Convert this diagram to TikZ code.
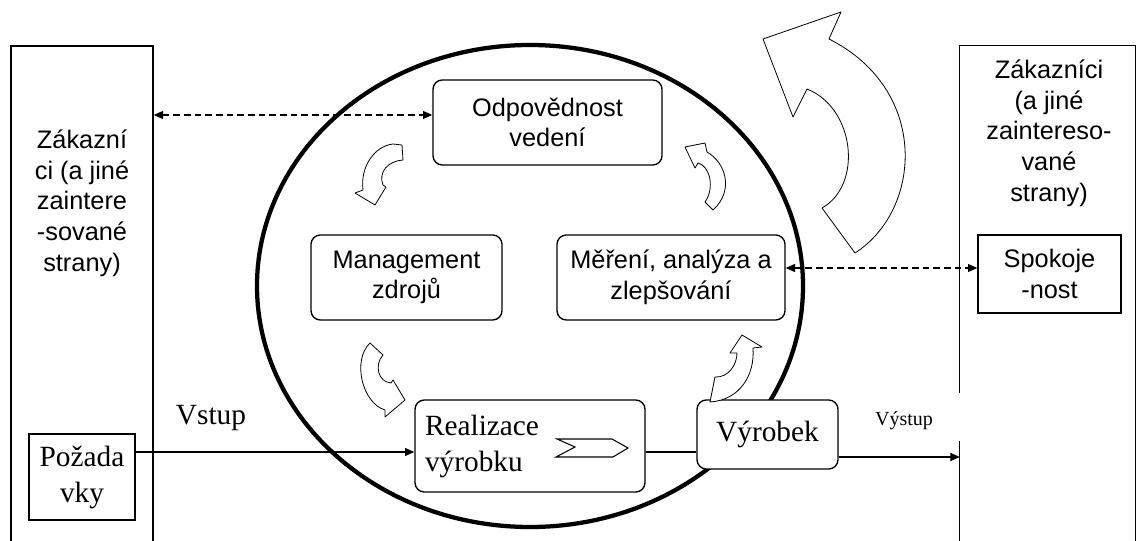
\documentclass[tikz,border=0pt]{standalone}
\usepackage{fontspec}
\setmainfont{Liberation Serif}
\newfontfamily\sansf{Liberation Sans}
\usetikzlibrary{arrows.meta,shapes.geometric}
\begin{document}
\begin{tikzpicture}[x=0.75pt,y=-0.75pt,
  >={Triangle[length=7pt,width=6pt]},
  box/.style={draw, line width=1pt, fill=white, inner sep=0pt, align=center},
  roundbox/.style={box, rounded corners=7pt},
  sanstext/.style={font=\sansf\fontsize{19}{23}\selectfont},
  seriftext/.style={font=\fontsize{22}{27}\selectfont},
  dasharrow/.style={dash pattern=on 5pt off 3pt, line width=0.8pt, <->},
  solidarrow/.style={line width=0.8pt, ->},
  plainline/.style={line width=0.8pt},
  curvedarrow/.style={draw, line width=0.6pt, fill=white, line join=round}
]
\useasboundingbox (0,0) rectangle (1136,541);
\clip (0,0) rectangle (1136,541);

% big curved arrow
\path[curvedarrow] (841,12) -- (763,39) -- (793,117) -- (807,89)
  .. controls (855,108) and (863,185) .. (822,208) -- (855,253)
  .. controls (922,210) and (930,90) .. (829,39) -- cycle;

% outer boxes
\node[draw, line width=1pt, inner sep=0pt, minimum width=106.5pt, minimum height=385.5pt] (lbox) at (82,303) {};
\node[sanstext, align=center] (ltext) at (82,203) {Zákazní\\ci (a jiné\\zaintere\\-sované\\strany)};

\node[draw=none, inner sep=0pt, minimum width=131.25pt, minimum height=385.5pt] (rbox) at (1047.5,303) {};
\coordinate (g1) at (0,393);
\coordinate (g2) at (0,441);
\draw[line width=1pt] (rbox.west |- g1) -- (rbox.north west) -- (rbox.north east)
  -- (rbox.south east) -- (rbox.south west) -- (rbox.west |- g2);
\node[sanstext, align=center] (rtext) at (1049,133) {Zákazníci\\(a jiné\\zaintereso-\\vané\\strany)};

% ellipse
\node[draw, ellipse, line width=3.2pt, inner sep=0pt, minimum width=409.5pt, minimum height=361.5pt] (circ) at (530,286) {};

% inner boxes
\node[roundbox, sanstext, minimum width=171.75pt, minimum height=63.75pt] (odp) at (547.5,122.5) {Odpovědnost\\vedení};
\node[roundbox, sanstext, minimum width=143.25pt, minimum height=63.75pt] (man) at (406.5,277.5) {Management\\zdrojů};
\node[roundbox, sanstext, minimum width=171pt, minimum height=63.75pt] (mer) at (671,277.5) {Měření, analýza a\\zlepšování};
\node[roundbox, seriftext, align=left, text width=157.5pt, minimum width=172.5pt, minimum height=69pt] (real) at (530,446) {Realizace\\výrobku};
\node[roundbox, seriftext, minimum width=105.75pt, minimum height=51.75pt] (vyr) at (767.5,434.5) {Výrobek};
\node[box, sanstext, minimum width=107.25pt, minimum height=58.5pt] (spok) at (1049.5,274) {Spokoje\\-nost};
\node[box, seriftext, minimum width=79.5pt, minimum height=64.5pt] (poz) at (82,477) {Požada\\vky};

% chevron inside Realizace
\draw[line width=0.8pt, fill=white] (557,439) -- (612,439) -- (628,448) -- (613,457) -- (556,457) -- (575,447) -- cycle;

% small curved arrows
\path[curvedarrow] (393,144) -- (402,145) -- (403,160)
  .. controls (388,161) and (378,172) .. (383,185) -- (386,187) -- (375,205) -- (355,193) -- (363,190)
  .. controls (360,166) and (375,146) .. (393,144) -- cycle;
\path[curvedarrow] (685,147) -- (705,143) -- (707,152)
  .. controls (725,162) and (735,190) .. (713,210) -- (705,202)
  .. controls (715,188) and (710,166) .. (698,163) -- (695,168) -- cycle;
\path[curvedarrow] (370,343) -- (383,355)
  .. controls (374,365) and (378,382) .. (391,383) -- (393,380) -- (405,400) -- (385,417) -- (385,410)
  .. controls (362,403) and (352,360) .. (370,343) -- cycle;
\path[curvedarrow] (710,402) -- (715,377)
  .. controls (728,378) and (737,365) .. (737,353) -- (730,353) -- (742,335) -- (762,347) -- (753,348)
  .. controls (755,375) and (740,400) .. (710,402) -- cycle;

% connectors
\coordinate (yd1) at (0,115);
\coordinate (yd2) at (0,268);
\coordinate (yin) at (0,452);
\coordinate (yout) at (0,457);
\draw[dasharrow] (lbox.east |- yd1) -- (odp.west |- yd1);
\draw[dasharrow] (mer.east |- yd2) -- (spok.west |- yd2);
\draw[solidarrow] (poz.east |- yin) -- (real.west |- yin);
\draw[plainline] (real.east |- yin) -- (vyr.west |- yin);
\draw[solidarrow] (vyr.east |- yout) -- (rbox.west |- yout);

% labels
\node[seriftext, anchor=base] (vstup) at (211,425) {Vstup};
\node[font=\fontsize{15}{18}\selectfont, anchor=base] (vystup) at (904,426) {Výstup};
\end{tikzpicture}
\end{document}
